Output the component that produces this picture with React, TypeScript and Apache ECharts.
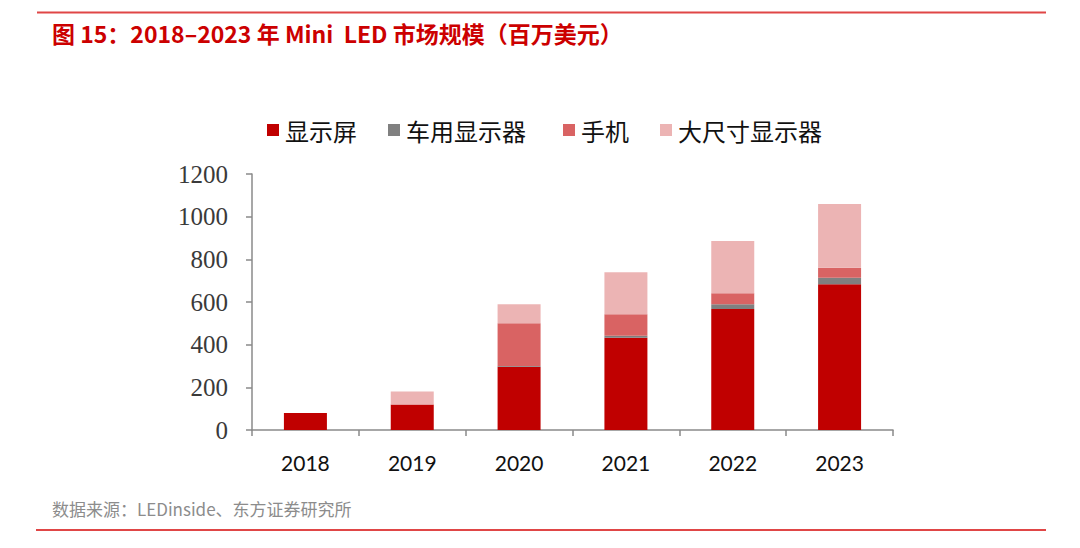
import React, { useEffect, useRef } from "react";
import * as echarts from "echarts";

const categories = ["2018", "2019", "2020", "2021", "2022", "2023"];
const displayScreen = [80, 120, 296, 433, 567, 683];
const carDisplay = [0, 0, 4, 9, 22, 31];
const mobile = [0, 0, 200, 100, 52, 47];
const largeDisplay = [0, 60, 90, 197, 245, 298];
const seriesNames = ["显示屏", "车用显示器", "手机", "大尺寸显示器"];
const seriesColors = ["#C00000", "#808080", "#D96363", "#ECB4B4"];
const titleText = "图 15：2018–2023 年 Mini  LED 市场规模（百万美元）";
const sourceText = "数据来源：LEDinside、东方证券研究所";

export default function App() {
  const ref = useRef<HTMLDivElement>(null);
  useEffect(() => {
    if (!ref.current) return;
    const chart = echarts.init(ref.current, null, { renderer: "svg" });
    const values = [displayScreen, carDisplay, mobile, largeDisplay];
    const legendLefts = [262, 383, 558, 655];
    const cjk = '"Noto Sans CJK SC", sans-serif';
    chart.setOption({
      animation: false,
      backgroundColor: "#ffffff",
      grid: { left: 252, right: 187, top: 174, bottom: 118, containLabel: false },
      legend: seriesNames.map((n, i) => ({
        data: [n],
        left: legendLefts[i],
        top: 113,
        itemWidth: 12,
        itemHeight: 12,
        itemGap: 0,
        icon: "rect",
        selectedMode: false,
        textStyle: { fontFamily: cjk, fontSize: 24, color: "#111111", padding: [0, 0, 0, 1] },
      })),
      xAxis: {
        type: "category",
        data: categories,
        axisLine: { show: true, lineStyle: { color: "#8a8a8a", width: 1.5 } },
        axisTick: { show: true, length: 6, alignWithLabel: false, lineStyle: { color: "#8a8a8a", width: 1.5 } },
        axisLabel: { margin: 22, fontFamily: "Lato, sans-serif", fontSize: 21, color: "#111111" },
        splitLine: { show: false },
      },
      yAxis: {
        type: "value",
        min: 0,
        max: 1200,
        interval: 200,
        axisLine: { show: true, lineStyle: { color: "#8a8a8a", width: 1.5 } },
        axisTick: { show: true, length: 6, lineStyle: { color: "#8a8a8a", width: 1.5 } },
        axisLabel: {
          margin: 24,
          fontFamily: '"Liberation Serif", serif',
          fontSize: 25,
          color: "#3a3a3a",
          formatter: (v: number) => String(v),
        },
        splitLine: { show: false },
      },
      series: seriesNames.map((n, i) => ({
        name: n,
        type: "bar",
        stack: "total",
        barWidth: 43,
        data: values[i],
        itemStyle: { color: seriesColors[i] },
      })),
      graphic: [
        {
          type: "line",
          shape: { x1: 37, y1: 12.5, x2: 1046, y2: 12.5 },
          style: { stroke: "#E04646", lineWidth: 2 },
        },
        {
          type: "line",
          shape: { x1: 36, y1: 530, x2: 1046, y2: 530 },
          style: { stroke: "#E04646", lineWidth: 2 },
        },
        {
          type: "text",
          left: 52,
          top: 21,
          style: {
            text: titleText,
            fontFamily: cjk,
            fontSize: 23,
            fontWeight: "bold",
            fill: "#CC0000",
          },
        },
        {
          type: "text",
          left: 52,
          top: 500,
          style: {
            text: sourceText,
            fontFamily: cjk,
            fontSize: 17,
            fill: "#8c8c8c",
          },
        },
      ],
    });
    return () => chart.dispose();
  }, []);
  return (
    <div
      ref={ref}
      style={{ position: "fixed", left: 0, top: 0, width: 1080, height: 548, background: "#fff" }}
    />
  );
}
